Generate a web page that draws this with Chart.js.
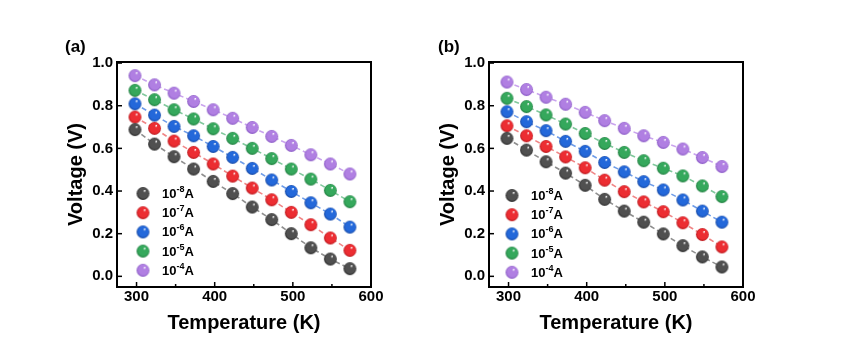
<!DOCTYPE html>
<html><head><meta charset="utf-8">
<script src="https://cdn.jsdelivr.net/npm/chart.js@4"></script>
<style>
html,body{margin:0;padding:0;background:#fff;}
body{width:856px;height:355px;overflow:hidden;position:relative;}
canvas{position:absolute;top:0;}
</style></head><body>
<canvas id="ca" width="428" height="355" style="left:0;width:428px;height:355px"></canvas>
<canvas id="cb" width="428" height="355" style="left:428px;width:428px;height:355px"></canvas>
<script>
// ---- data ----
const temperatures = [298,323,348,373,398,423,448,473,498,523,548,573];
const currentExponents = [-8,-7,-6,-5,-4];
const xTicks = [300,400,500,600];
const yTicks = [0,0.2,0.4,0.6,0.8,1.0];

// panel (a)
const a_1e8 = [0.688,0.620,0.561,0.503,0.445,0.388,0.325,0.266,0.200,0.134,0.081,0.036];
const a_1e7 = [0.747,0.694,0.634,0.581,0.527,0.470,0.414,0.359,0.300,0.242,0.180,0.122];
const a_1e6 = [0.809,0.756,0.703,0.659,0.609,0.558,0.506,0.452,0.398,0.345,0.292,0.231];
const a_1e5 = [0.872,0.828,0.781,0.738,0.692,0.647,0.600,0.552,0.503,0.456,0.403,0.350];
const a_1e4 = [0.941,0.898,0.859,0.820,0.781,0.741,0.698,0.656,0.614,0.570,0.527,0.480];
// panel (b)
const b_1e8 = [0.647,0.592,0.537,0.484,0.427,0.361,0.306,0.254,0.199,0.144,0.091,0.044];
const b_1e7 = [0.706,0.659,0.609,0.560,0.509,0.451,0.397,0.349,0.303,0.251,0.196,0.138];
const b_1e6 = [0.772,0.725,0.683,0.633,0.586,0.534,0.490,0.444,0.405,0.358,0.306,0.254];
const b_1e5 = [0.835,0.796,0.757,0.714,0.670,0.623,0.581,0.542,0.507,0.471,0.424,0.374];
const b_1e4 = [0.911,0.876,0.840,0.807,0.769,0.730,0.694,0.659,0.628,0.597,0.557,0.515];

// ---- styles ----
const FONT = "'Liberation Sans', Arial, sans-serif";
const sphereColors = [
  {base:'#505050', edge:'#2a2a2a', line:'#8f8f8f'},
  {base:'#ec2d32', edge:'#b8161b', line:'#f08686'},
  {base:'#2368da', edge:'#1446a2', line:'#6f9de8'},
  {base:'#35a85c', edge:'#1f7c3e', line:'#80c89c'},
  {base:'#b07fe2', edge:'#8858c4', line:'#caa4ee'}
];
function sphere(c, r){
  const s = Math.ceil(2*r+2), cv = document.createElement('canvas');
  cv.width = cv.height = s;
  const g = cv.getContext('2d'), cx = s/2, cy = s/2;
  const gr = g.createRadialGradient(cx + r*0.3, cy - r*0.45, r*0.02, cx, cy, r);
  gr.addColorStop(0, 'rgba(255,255,255,1)');
  gr.addColorStop(0.22, c.base);
  gr.addColorStop(0.78, c.base);
  gr.addColorStop(1, c.edge);
  g.fillStyle = gr;
  g.beginPath(); g.arc(cx, cy, r, 0, Math.PI*2); g.fill();
  return cv;
}
const sphereImgs = sphereColors.map(c => sphere(c, 6.4));

function makeDatasets(series){
  return series.map((vals, i) => ({
    label: '10^' + currentExponents[i] + 'A',
    exponent: currentExponents[i],
    data: temperatures.map((t, k) => ({x: t, y: vals[k]})),
    showLine: true,
    borderColor: sphereColors[i].line,
    borderWidth: 1.6,
    borderDash: [5, 3],
    pointStyle: sphereImgs[i],
    pointRadius: 6,
    pointHoverRadius: 6
  }));
}

const framePlugin = {
  id: 'frame',
  afterDraw(chart, args, opts){
    const {ctx, chartArea: a, scales} = chart;
    ctx.save();
    // inward ticks
    ctx.strokeStyle = '#000'; ctx.lineWidth = 1.5;
    [300,350,400,450,500,550].forEach(v => {
      const x = scales.x.getPixelForValue(v);
      const len = (v % 100 === 0) ? 5 : 3;
      ctx.beginPath(); ctx.moveTo(x, a.bottom); ctx.lineTo(x, a.bottom - len); ctx.stroke();
    });
    yTicks.forEach(v => {
      const y = scales.y.getPixelForValue(v);
      ctx.beginPath(); ctx.moveTo(a.left, y); ctx.lineTo(a.left + 5, y); ctx.stroke();
    });
    // frame
    ctx.lineWidth = 2;
    ctx.strokeRect(a.left, a.top, a.right - a.left, a.bottom - a.top);
    // panel label
    ctx.fillStyle = '#000';
    ctx.font = 'bold 17px ' + FONT;
    ctx.textBaseline = 'middle'; ctx.textAlign = 'left';
    ctx.fillText(opts.panel, opts.panelX, 47);
    // legend
    chart.data.datasets.forEach((ds, i) => {
      const cx = a.left + opts.legX, cy = a.top + opts.legY + i*19.2;
      const img = sphereImgs[i];
      ctx.drawImage(img, cx - img.width/2, cy - img.height/2);
      let x = a.left + opts.legX + 19;
      ctx.font = 'bold 13px ' + FONT; ctx.textBaseline = 'middle';
      ctx.fillText('10', x, cy + 1); x += ctx.measureText('10').width;
      ctx.font = 'bold 9px ' + FONT;
      const sup = '-' + Math.abs(ds.exponent);
      ctx.fillText(sup, x, cy - 4); x += ctx.measureText(sup).width;
      ctx.font = 'bold 13px ' + FONT;
      ctx.fillText('A', x, cy + 1);
    });
    ctx.restore();
  }
};

function makeChart(id, series, cfg){
  return new Chart(document.getElementById(id), {
    type: 'scatter',
    data: {datasets: makeDatasets(series)},
    plugins: [framePlugin],
    options: {
      responsive: false, animation: false,
      layout: {padding: {top: 62, right: cfg.padRight, left: 0, bottom: 0}},
      plugins: {legend: {display: false}, tooltip: {enabled: false},
        frame: {panel: cfg.panel, panelX: cfg.panelX, legX: cfg.legX, legY: cfg.legY}},
      scales: {
        x: {
          type: 'linear', min: 275, max: 600,
          afterFit(s){ s.height = 68; },
          afterBuildTicks(s){ s.ticks = xTicks.map(v => ({value: v})); },
          grid: {display: false, drawTicks: false}, border: {display: false},
          ticks: {color: '#000', font: {family: FONT, size: 15, weight: 'bold'}, padding: 1, maxRotation: 0,
                  callback: v => String(v)},
          title: {display: true, text: 'Temperature (K)', color: '#000',
                  font: {family: FONT, size: 20, weight: 'bold', lineHeight: 1.2}, padding: {top: 0, bottom: 20}}
        },
        y: {
          type: 'linear', min: -0.05, max: 1.005,
          afterFit(s){ s.width = cfg.yWidth; },
          afterBuildTicks(s){ s.ticks = yTicks.map(v => ({value: v})); },
          grid: {display: false, drawTicks: false}, border: {display: false},
          ticks: {color: '#000', font: {family: FONT, size: 15, weight: 'bold'}, padding: 4,
                  callback: v => Number(v).toFixed(1)},
          title: {display: true, text: 'Voltage (V)', color: '#000',
                  font: {family: FONT, size: 20, weight: 'bold', lineHeight: 1.2}, padding: {top: cfg.yTitlePad, bottom: 0}}
        }
      }
    }
  });
}

makeChart('ca', [a_1e8, a_1e7, a_1e6, a_1e5, a_1e4],
  {panel: '(a)', panelX: 65, padRight: 57, yWidth: 117, yTitlePad: 64, legX: 26, legY: 131.5});
makeChart('cb', [b_1e8, b_1e7, b_1e6, b_1e5, b_1e4],
  {panel: '(b)', panelX: 10, padRight: 113, yWidth: 61, yTitlePad: 8, legX: 23, legY: 133.5});
</script>
</body></html>
